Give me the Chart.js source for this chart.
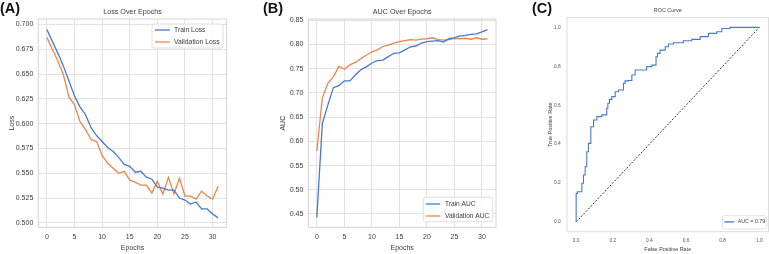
<!DOCTYPE html>
<html>
<head>
<meta charset="utf-8">
<script src="https://cdn.jsdelivr.net/npm/chart.js@4.4.1/dist/chart.umd.min.js"></script>
<style>
  html, body { margin: 0; padding: 0; background: #fff; }
  body { width: 769px; height: 254px; position: relative; overflow: hidden; }
  canvas { position: absolute; top: 0; }
  .tag { position: absolute; top: 0; line-height: 15px; font: bold 14.5px 'Liberation Sans', Arial, sans-serif; color: #111; }
</style>
</head>
<body>
<canvas id="lossChart" width="250" height="254" style="left:0px"></canvas>
<canvas id="aucChart" width="260" height="254" style="left:250px"></canvas>
<canvas id="rocChart" width="259" height="254" style="left:510px"></canvas>
<div class="tag" style="left:0px">(A)</div>
<div class="tag" style="left:263px">(B)</div>
<div class="tag" style="left:532px">(C)</div>
<script>
// epochs 0..31
const epochs = [0, 1, 2, 3, 4, 5, 6, 7, 8, 9, 10, 11, 12, 13, 14, 15,
                16, 17, 18, 19, 20, 21, 22, 23, 24, 25, 26, 27, 28, 29, 30, 31];

const trainLoss = [0.695, 0.683, 0.671, 0.658, 0.643, 0.628, 0.617, 0.609, 0.596, 0.588, 0.582,
                   0.576, 0.572, 0.566, 0.559, 0.557, 0.551, 0.552, 0.546, 0.544, 0.536, 0.535,
                   0.533, 0.533, 0.525, 0.523, 0.519, 0.521, 0.514, 0.514, 0.509, 0.505];
const valLoss = [0.687, 0.675, 0.663, 0.649, 0.627, 0.619, 0.602, 0.594, 0.584, 0.582, 0.568,
                 0.560, 0.555, 0.550, 0.552, 0.543, 0.541, 0.538, 0.538, 0.530, 0.542, 0.529,
                 0.546, 0.529, 0.545, 0.527, 0.527, 0.524, 0.532, 0.527, 0.524, 0.537];

const trainAuc = [0.443, 0.637, 0.675, 0.711, 0.715, 0.725, 0.725, 0.737, 0.748, 0.754, 0.762,
                  0.767, 0.768, 0.775, 0.782, 0.783, 0.789, 0.795, 0.797, 0.803, 0.806, 0.807,
                  0.808, 0.805, 0.812, 0.814, 0.818, 0.819, 0.821, 0.822, 0.826, 0.831];
const valAuc = [0.580, 0.690, 0.720, 0.733, 0.755, 0.749, 0.758, 0.763, 0.771, 0.778, 0.785,
                0.789, 0.796, 0.799, 0.803, 0.806, 0.808, 0.810, 0.809, 0.811, 0.812, 0.814,
                0.810, 0.809, 0.810, 0.813, 0.812, 0.813, 0.811, 0.814, 0.811, 0.812];

// ROC curve corners
const fpr = [0, 0, 0.007, 0.031, 0.040, 0.049, 0.058, 0.067, 0.080, 0.095, 0.113, 0.140, 0.167,
             0.173, 0.182, 0.195, 0.213, 0.231, 0.258, 0.267, 0.285, 0.304, 0.322, 0.345, 0.385,
             0.413, 0.436, 0.444, 0.458, 0.486, 0.504, 0.531, 0.585, 0.631, 0.677, 0.722, 0.768,
             0.795, 0.840, 0.895, 1.0];
const tpr = [0, 0.113, 0.147, 0.155, 0.199, 0.241, 0.284, 0.361, 0.404, 0.489, 0.524, 0.541, 0.550,
             0.584, 0.610, 0.630, 0.644, 0.669, 0.678, 0.712, 0.725, 0.727, 0.755, 0.781, 0.781,
             0.798, 0.806, 0.849, 0.866, 0.883, 0.900, 0.914, 0.921, 0.931, 0.938, 0.952, 0.969,
             0.977, 0.994, 1.0, 1.0];
const rocAuc = 0.79;
const chance = [0, 1];

const epochTicks = [0, 5, 10, 15, 20, 25, 30];
const lossTicks = [0.500, 0.525, 0.550, 0.575, 0.600, 0.625, 0.650, 0.675, 0.700];
const aucTicks = [0.45, 0.50, 0.55, 0.60, 0.65, 0.70, 0.75, 0.80, 0.85];
const rateTicks = [0.0, 0.2, 0.4, 0.6, 0.8, 1.0];

const BLUE = '#4878d0';
const ORANGE = '#ee854a';
const GRID = '#e2e2e2';
const FRAME = '#d4d4d4';
const TXT = '#3c3c3c';
const FONT = "'Liberation Sans', Arial, sans-serif";

// light grey box round the plot area, like the seaborn style
const frame = {
    id: 'frame',
    afterDatasetsDraw(chart, args, o) {
        const a = chart.chartArea;
        const ctx = chart.ctx;
        ctx.save();
        ctx.strokeStyle = o.color;
        ctx.lineWidth = 1;
        ctx.strokeRect(a.left, a.top, a.right - a.left, a.bottom - a.top);
        ctx.restore();
    }
};

// legend box placed inside the plot
const boxLegend = {
    id: 'boxLegend',
    afterDraw(chart, args, o) {
        const ctx = chart.ctx;
        ctx.save();
        ctx.beginPath();
        ctx.roundRect(o.x, o.y, o.w, o.h, 2);
        ctx.fillStyle = 'rgba(255,255,255,0.85)';
        ctx.fill();
        ctx.strokeStyle = '#d8d8d8';
        ctx.lineWidth = 0.8;
        ctx.stroke();
        ctx.font = o.size + 'px ' + FONT;
        ctx.textBaseline = 'middle';
        let row = 0;
        chart.data.datasets.forEach(ds => {
            if (!ds.label) return;
            const y = o.rowY + row * o.rowH;
            ctx.strokeStyle = ds.borderColor;
            ctx.lineWidth = 1.3;
            ctx.beginPath();
            ctx.moveTo(o.lineX, y);
            ctx.lineTo(o.lineX + o.lineLen, y);
            ctx.stroke();
            ctx.fillStyle = TXT;
            ctx.fillText(ds.label, o.textX, y);
            row++;
        });
        ctx.restore();
    }
};

function setTicks(values) {
    return s => { s.ticks = values.map(v => ({ value: v })); };
}

function epochChart(id, opts) {
    return new Chart(document.getElementById(id), {
        type: 'line',
        data: {
            labels: epochs,
            datasets: [
                { label: opts.names[0], data: opts.series[0], borderColor: BLUE },
                { label: opts.names[1], data: opts.series[1], borderColor: ORANGE }
            ]
        },
        options: {
            responsive: false,
            animation: false,
            layout: { padding: { left: opts.padLeft, right: opts.padRight, top: 0, bottom: 0 } },
            elements: { point: { radius: 0 }, line: { borderWidth: 1.3, tension: 0 } },
            plugins: {
                legend: { display: false },
                tooltip: { enabled: false },
                title: {
                    display: true, text: opts.title, fullSize: false, color: TXT,
                    font: { family: FONT, size: 7.2, weight: 'normal' },
                    padding: { top: 8.2, bottom: 2.2 }
                },
                frame: { color: FRAME },
                boxLegend: opts.legend
            },
            scales: {
                x: {
                    type: 'linear', min: -1.55, max: 32.55,
                    afterBuildTicks: setTicks(epochTicks),
                    afterFit: s => { s.height = 26.7; },
                    grid: { color: GRID, drawTicks: false },
                    border: { display: false },
                    ticks: { color: TXT, padding: 6, autoSkip: false, maxRotation: 0,
                             font: { family: FONT, size: 7 } },
                    title: { display: true, text: 'Epochs', color: TXT,
                             font: { family: FONT, size: 7 }, padding: { top: 0, bottom: 1.8 } }
                },
                y: {
                    min: opts.yMin, max: opts.yMax,
                    afterBuildTicks: setTicks(opts.yTicks),
                    afterFit: s => { s.width = 38.3; },
                    grid: { color: GRID, drawTicks: false },
                    border: { display: false },
                    ticks: { color: TXT, padding: 5, autoSkip: false,
                             font: { family: FONT, size: 7 },
                             callback: v => v.toFixed(opts.digits) },
                    title: { display: true, text: opts.yTitle, color: TXT,
                             font: { family: FONT, size: 7 }, padding: { top: opts.yTitlePad, bottom: 0 } }
                }
            }
        },
        plugins: [frame, boxLegend]
    });
}

epochChart('lossChart', {
    title: 'Loss Over Epochs', yTitle: 'Loss',
    names: ['Train Loss', 'Validation Loss'], series: [trainLoss, valLoss],
    yMin: 0.4955, yMax: 0.7055, yTicks: lossTicks, digits: 3,
    padLeft: 0, padRight: 23.3, yTitlePad: 7.8,
    legend: { x: 152, y: 24, w: 71, h: 24, rowY: 30, rowH: 12, lineX: 155, lineLen: 15, textX: 174, size: 6.8 }
});

epochChart('aucChart', {
    title: 'AUC Over Epochs', yTitle: 'AUC',
    names: ['Train AUC', 'Validation AUC'], series: [trainAuc, valAuc],
    yMin: 0.4225, yMax: 0.8527, yTicks: aucTicks, digits: 2,
    padLeft: 20, padRight: 14, yTitlePad: 9.0,
    legend: { x: 173.3, y: 197.3, w: 69.4, h: 24.4, rowY: 204, rowH: 12, lineX: 175.7, lineLen: 14.5, textX: 195, size: 6.6 }
});

new Chart(document.getElementById('rocChart'), {
    type: 'scatter',
    data: {
        datasets: [
            {
                label: 'AUC = ' + rocAuc.toFixed(2),
                data: fpr.map((f, i) => ({ x: f, y: tpr[i] })),
                showLine: true, stepped: 'after', borderColor: BLUE, borderWidth: 1.1
            },
            {
                label: '',
                data: chance.map(v => ({ x: v, y: v })),
                showLine: true, borderColor: '#222', borderWidth: 0.9, borderDash: [2, 1.5]
            }
        ]
    },
    options: {
        responsive: false,
        animation: false,
        layout: { padding: { left: 30, right: 0.5, top: 0, bottom: 0 } },
        elements: { point: { radius: 0 }, line: { tension: 0 } },
        plugins: {
            legend: { display: false },
            tooltip: { enabled: false },
            title: {
                display: true, text: 'ROC Curve', fullSize: false, color: TXT,
                font: { family: FONT, size: 5.4, weight: 'normal' },
                padding: { top: 7.56, bottom: 3.56 }
            },
            frame: { color: '#dcdcdc' },
            boxLegend: { x: 212.3, y: 215.7, w: 44.4, h: 13.3, rowY: 221.9, rowH: 10, lineX: 214.3, lineLen: 10, textX: 227.7, size: 5.3 }
        },
        scales: {
            x: {
                type: 'linear', min: -0.05, max: 1.05,
                afterBuildTicks: setTicks(rateTicks),
                afterFit: s => { s.height = 22.3; },
                grid: { display: false, drawTicks: false },
                border: { display: false },
                ticks: { color: '#555', padding: 6.1, autoSkip: false, maxRotation: 0,
                         font: { family: FONT, size: 4.8 }, callback: v => v.toFixed(1) },
                title: { display: true, text: 'False Positive Rate', color: TXT,
                         font: { family: FONT, size: 5.45 }, padding: { top: 0, bottom: 1.2 } }
            },
            y: {
                min: -0.05, max: 1.05,
                afterBuildTicks: setTicks(rateTicks),
                afterFit: s => { s.width = 27; },
                grid: { display: false, drawTicks: false },
                border: { display: false },
                ticks: { color: '#555', padding: 6.3, autoSkip: false,
                         font: { family: FONT, size: 4.8 }, callback: v => v.toFixed(1) },
                title: { display: true, text: 'True Positive Rate', color: TXT,
                         font: { family: FONT, size: 5.45 }, padding: { top: 7.2, bottom: 0 } }
            }
        }
    },
    plugins: [frame, boxLegend]
});
</script>
</body>
</html>
